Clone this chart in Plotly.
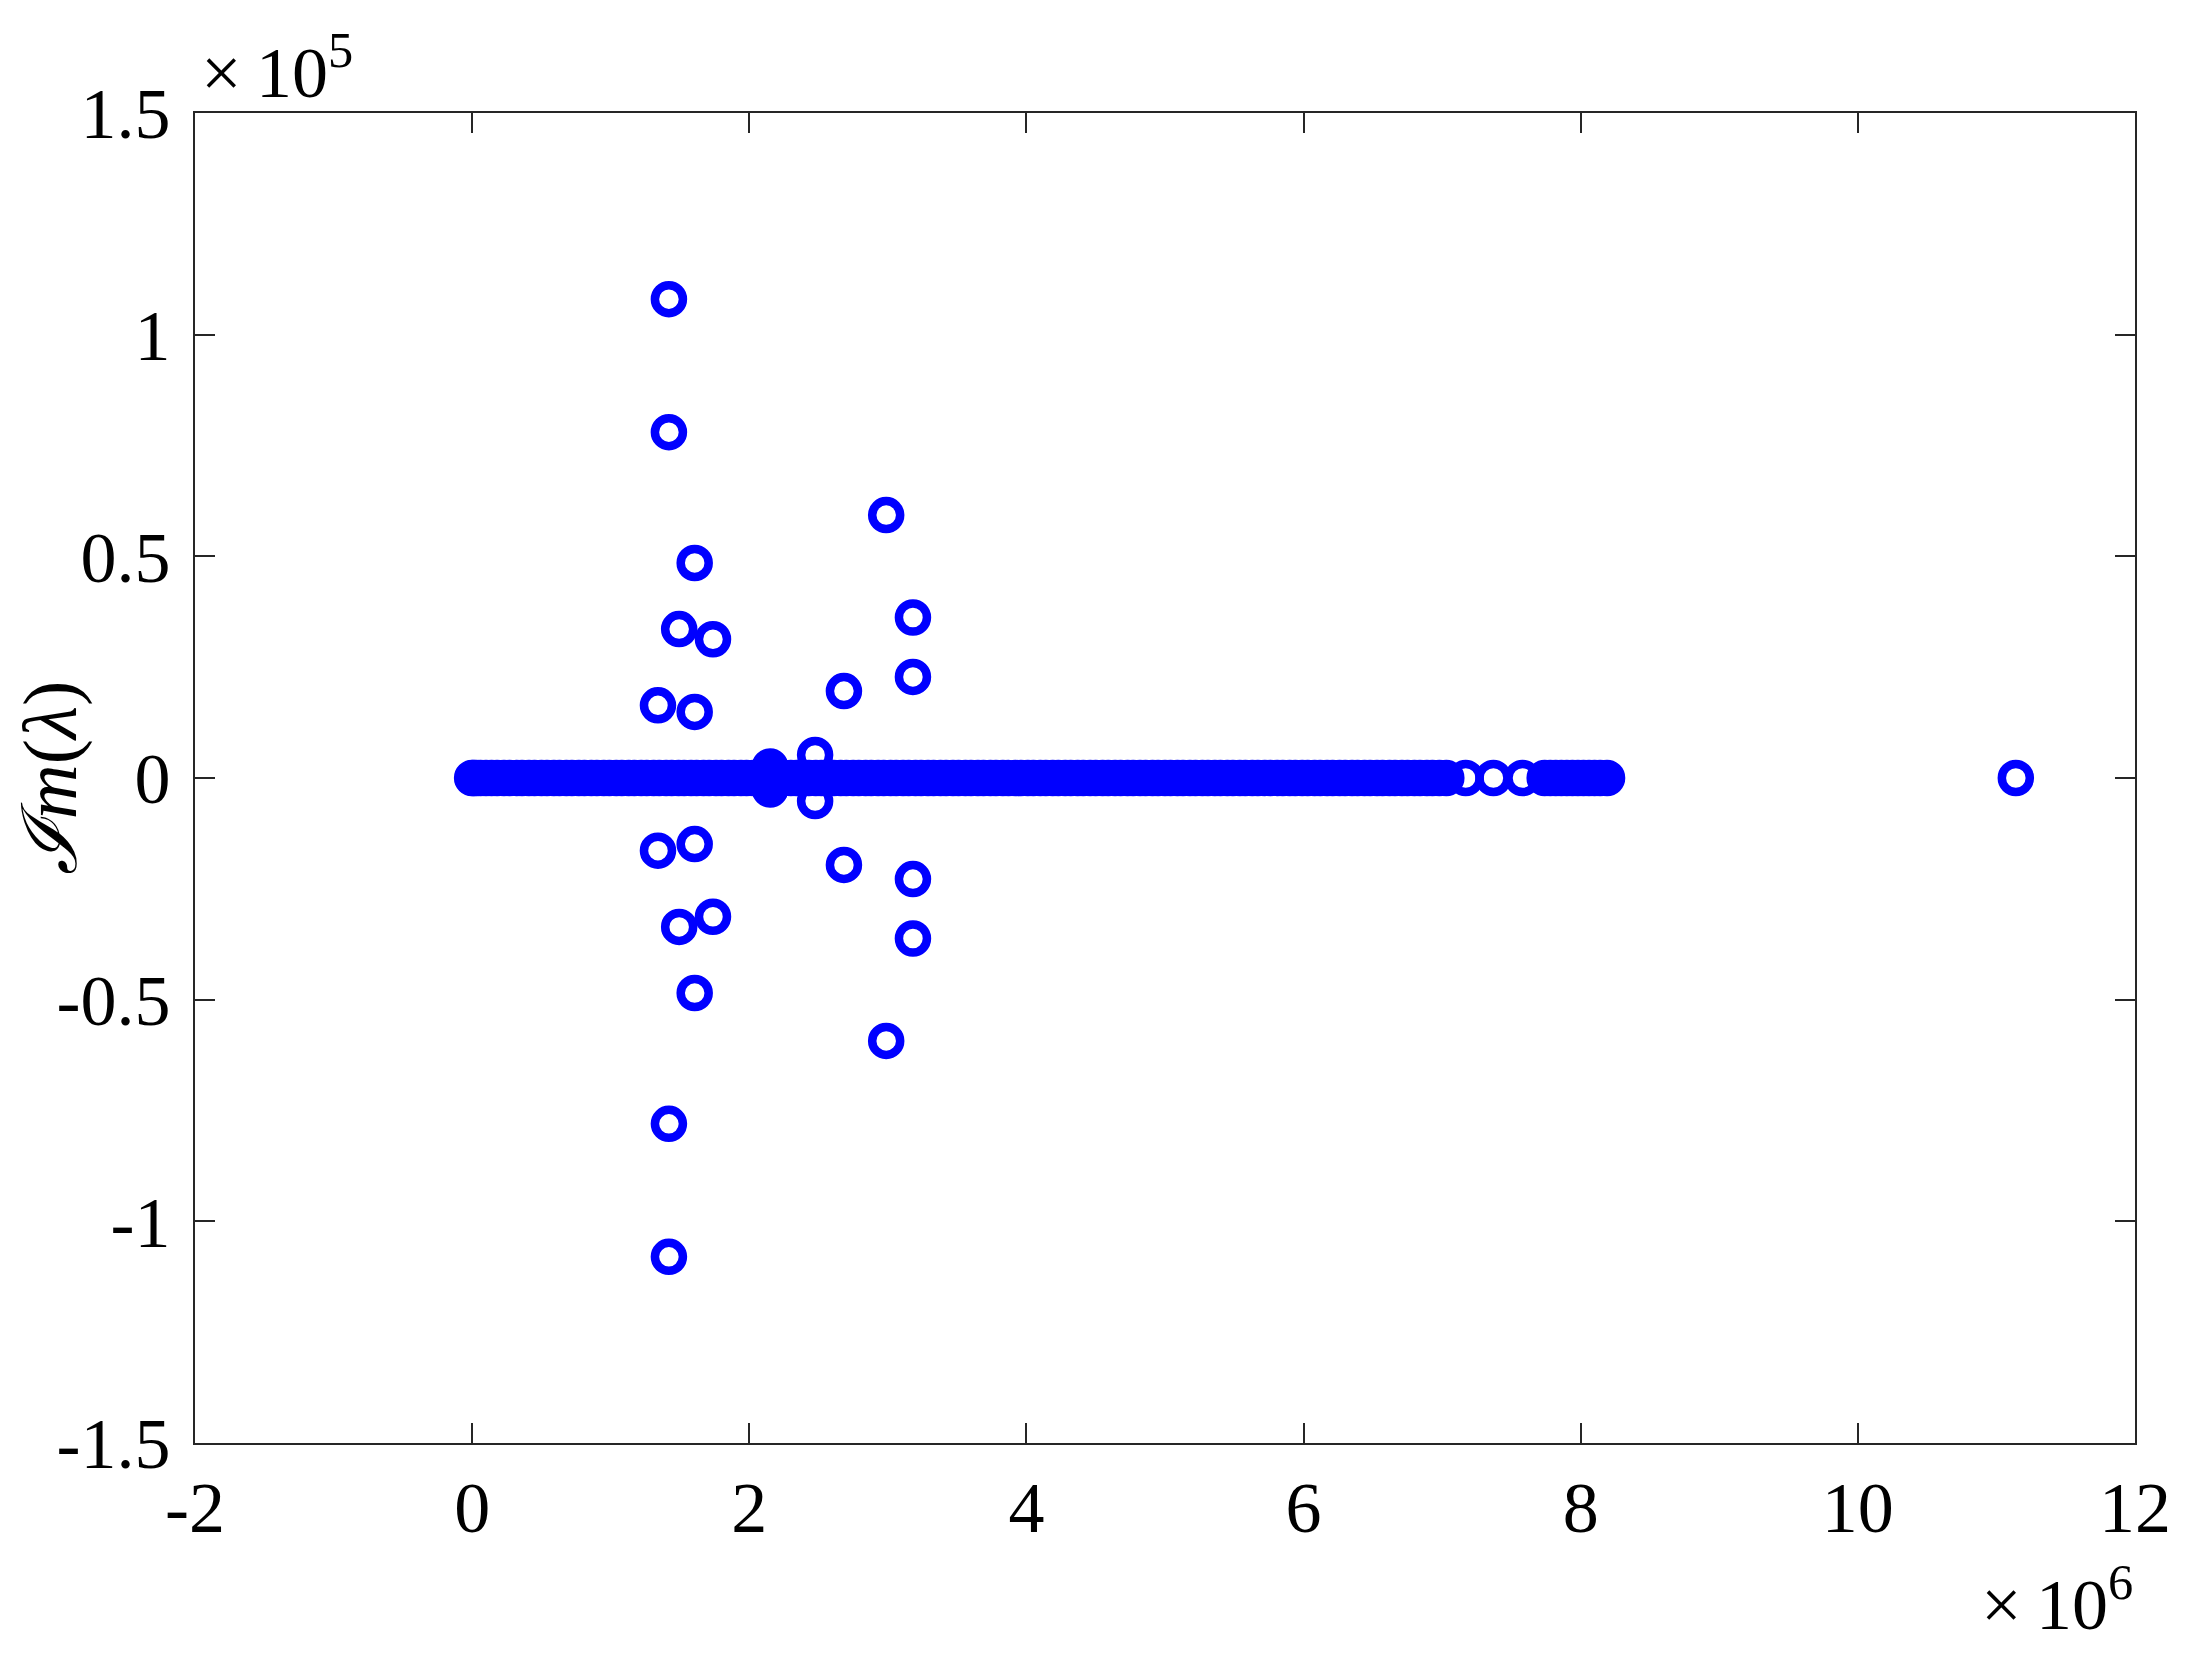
import plotly.graph_objects as go

# Eigenvalues: real part in units of 1e6, imaginary part in units of 1e5
real_axis_re = [
    0.00, 0.01, 0.03, 0.06, 0.10, 0.14, 0.18, 0.23, 0.27, 0.32, 0.36, 0.41, 0.45, 0.50,
    0.54, 0.59, 0.63, 0.68, 0.72, 0.77, 0.81, 0.86, 0.90, 0.95, 0.99, 1.04, 1.08, 1.13,
    1.17, 1.22, 1.26, 1.31, 1.35, 1.40, 1.44, 1.49, 1.53, 1.58, 1.62, 1.67, 1.71, 1.76,
    1.80, 1.85, 1.89, 1.94, 1.98, 2.03, 2.07, 2.12, 2.16, 2.21, 2.25, 2.30, 2.34, 2.39,
    2.43, 2.48, 2.52, 2.57, 2.61, 2.66, 2.70, 2.75, 2.79, 2.84, 2.88, 2.93, 2.97, 3.02,
    3.06, 3.11, 3.15, 3.20, 3.24, 3.29, 3.33, 3.38, 3.42, 3.47, 3.51, 3.56, 3.60, 3.65,
    3.69, 3.74, 3.78, 3.83, 3.87, 3.92, 3.96, 4.01, 4.05, 4.10, 4.14, 4.19, 4.23, 4.28,
    4.32, 4.37, 4.41, 4.46, 4.50, 4.55, 4.59, 4.64, 4.68, 4.73, 4.77, 4.82, 4.86, 4.91,
    4.95, 5.00, 5.04, 5.09, 5.13, 5.18, 5.22, 5.27, 5.31, 5.36, 5.40, 5.45, 5.49, 5.54,
    5.58, 5.63, 5.67, 5.72, 5.76, 5.81, 5.85, 5.90, 5.94, 5.99, 6.03, 6.08, 6.12, 6.17,
    6.21, 6.26, 6.30, 6.35, 6.39, 6.44, 6.48, 6.53, 6.57, 6.62, 6.66, 6.71, 6.75, 6.80,
    6.84, 6.89, 6.93, 6.98, 7.03, 7.17, 7.37, 7.58, 7.74, 7.78, 7.82, 7.86, 7.90, 7.94,
    7.98, 8.02, 8.06, 8.10, 8.14, 8.19, 11.14,
]

complex_re = [1.42, 1.42, 1.606, 1.494, 1.738, 1.341, 1.606, 2.988, 3.181, 3.181,
              2.683, 2.475, 2.15, 2.15, 2.14, 2.16]
complex_im = [1.080, 0.780, 0.485, 0.336, 0.313, 0.164, 0.149, 0.593, 0.362, 0.228,
              0.196, 0.052, 0.026, 0.014, 0.020, 0.020]

x_ticks = [-2, 0, 2, 4, 6, 8, 10, 12]
x_tick_text = ["-2", "0", "2", "4", "6", "8", "10", "12"]
y_ticks = [-1.5, -1, -0.5, 0, 0.5, 1, 1.5]
y_tick_text = ["-1.5", "-1", "-0.5", "0", "0.5", "1", "1.5"]

xs = list(real_axis_re) + list(complex_re) + list(complex_re)
ys = [0.0] * len(real_axis_re) + list(complex_im) + [-v for v in complex_im]

BLUE = "#0000ff"
AX = "#262626"
FONT = "Liberation Serif, Times New Roman, DejaVu Serif, serif"
FS = 72

fig = go.Figure()
fig.add_trace(go.Scatter(
    x=xs, y=ys, mode="markers",
    marker=dict(symbol="circle-open", size=28, color=BLUE,
                line=dict(width=8.5, color=BLUE)),
    showlegend=False, hoverinfo="skip",
))

axis_common = dict(
    showgrid=False, zeroline=False, showline=True, linecolor=AX, linewidth=2,
    mirror="ticks", ticks="inside", ticklen=20, tickwidth=2, tickcolor=AX,
    tickfont=dict(family=FONT, size=FS, color="#000000"), automargin=False,
)

# page body has an 8px margin, so the figure is drawn 8px right/down
fig.update_layout(
    width=2200, height=1669,
    margin=dict(l=187, r=73, t=105, b=234, autoexpand=False),
    paper_bgcolor="white", plot_bgcolor="white",
    xaxis=dict(range=[-2, 12], tickmode="array", tickvals=x_ticks, ticktext=x_tick_text,
               ticklabelstandoff=1, **axis_common),
    yaxis=dict(range=[-1.5, 1.5], tickmode="array", tickvals=y_ticks, ticktext=y_tick_text,
               ticklabelstandoff=8,
               title=dict(text="<i>ℐm</i>(<i>λ</i>)", font=dict(family=FONT, size=76, color="#000000"),
                          standoff=16),
               **axis_common),
    annotations=[
        dict(text="×\u200910<sup>5</sup>", xref="paper", yref="paper", x=0, y=1,
             xanchor="left", yanchor="bottom", xshift=4, yshift=-2, showarrow=False,
             font=dict(family=FONT, size=FS, color="#000000")),
        dict(text="×\u200910<sup>6</sup>", xref="paper", yref="paper", x=1, y=0,
             xanchor="right", yanchor="bottom", xshift=0, yshift=-204, showarrow=False,
             font=dict(family=FONT, size=FS, color="#000000")),
    ],
)

fig.write_html("out.html")
